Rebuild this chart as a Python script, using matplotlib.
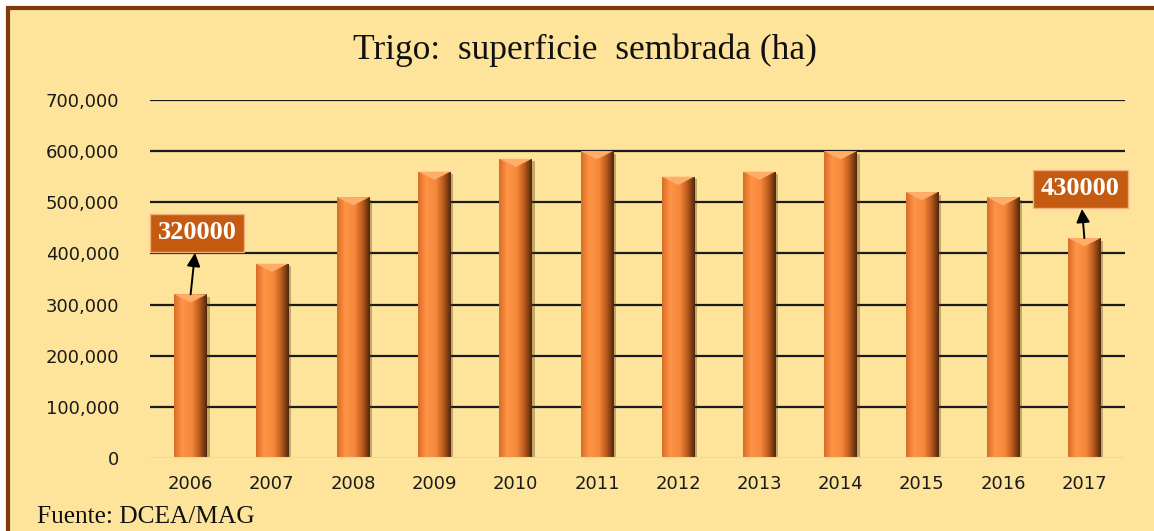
import matplotlib
matplotlib.use("Agg")
import matplotlib.pyplot as plt
import numpy as np
from matplotlib.colors import LinearSegmentedColormap
from matplotlib.patches import Rectangle
from matplotlib.ticker import FuncFormatter

years = ["2006", "2007", "2008", "2009", "2010", "2011",
         "2012", "2013", "2014", "2015", "2016", "2017"]
area_ha = [320000, 380000, 510000, 560000, 585000, 600000,
           550000, 560000, 600000, 520000, 510000, 430000]
yticks = [0, 100000, 200000, 300000, 400000, 500000, 600000, 700000]
title = "Trigo:  superficie  sembrada (ha)"
source = "Fuente: DCEA/MAG"
callouts = {"2006": "320000", "2017": "430000"}

BG = "#FDE49A"
fig = plt.figure(figsize=(11.54, 5.31), dpi=100)
fig.patch.set_facecolor("white")
# chart frame
fig.add_artist(Rectangle((8 / 1154, -0.05), 1.2, 1 - 8 / 531 + 0.05,
                         transform=fig.transFigure, facecolor=BG,
                         edgecolor="#7F3A0C", linewidth=3, zorder=0))

ax = fig.add_axes([150 / 1154, 1 - 458 / 531, 975 / 1154, (458 - 100) / 531])
ax.set_facecolor("none")
x = np.arange(len(years))
ax.set_xlim(-0.5, len(years) - 0.5)
ax.set_ylim(0, 700000)

cmap = LinearSegmentedColormap.from_list(
    "cyl", [(0, "#D66C26"), (0.25, "#FF9446"), (0.55, "#F5873A"),
            (0.78, "#B8591C"), (1.0, "#4E260A")])
grad = np.linspace(0, 1, 256).reshape(1, -1)
width = 0.40
bars = ax.bar(x, area_ha, width=width, color="#F08838", zorder=3)
for b, v in zip(bars, area_ha):
    # shadow
    ax.add_patch(Rectangle((b.get_x() + 0.035, 0), b.get_width(), v - 5000,
                           facecolor="#5A3A14", alpha=0.35, zorder=2, linewidth=0))
    im = ax.imshow(grad, cmap=cmap, aspect="auto",
                   extent=[b.get_x(), b.get_x() + b.get_width(), 0, v], zorder=3.5)
    im.set_clip_path(b)
    # top cap highlight
    cx = b.get_x() + b.get_width() / 2
    w = b.get_width()
    ax.fill([b.get_x(), cx, b.get_x() + w], [v, v - 16000, v],
            color="#FFAE6A", zorder=4, linewidth=0)

ax.set_yticks(yticks)
ax.yaxis.set_major_formatter(FuncFormatter(lambda v, p: f"{int(v):,}"))
ax.set_xticks(x)
ax.set_xticklabels(years)
for yv in yticks[1:]:
    ax.axhline(yv, color="#1A1A1A", linewidth=1.6, zorder=1)
ax.axhline(0, color="#D8D8D8", linewidth=1.5, zorder=5)
for s in ax.spines.values():
    s.set_visible(False)
ax.tick_params(axis="both", length=0, labelsize=13, colors="#1A1A1A")
ax.tick_params(axis="y", pad=22)
ax.tick_params(axis="x", pad=12)

fig.text(585 / 1154, 1 - 50 / 531, title, ha="center", va="center",
         fontsize=25.5, family="Liberation Serif", color="#111111")
fig.text(37 / 1154, 1 - 517 / 531, source, ha="left", va="center",
         fontsize=18.3, family="Liberation Serif", color="#111111")

box = dict(boxstyle="square,pad=0.3", facecolor="#C55A11",
           edgecolor="#F0B080", linewidth=1)
arrow = dict(arrowstyle="<|-", color="black", lw=1.4,
             mutation_scale=20, shrinkA=0, shrinkB=0)
i0 = years.index("2006")
ax.annotate(callouts["2006"], xy=(x[i0], area_ha[i0]),
            xytext=(x[i0] + 0.08, 440000), ha="center", va="center",
            fontsize=19, fontweight="bold", family="Liberation Serif",
            color="white", bbox=box, zorder=6, arrowprops=arrow)
i1 = years.index("2017")
ax.annotate(callouts["2017"], xy=(x[i1], area_ha[i1]),
            xytext=(x[i1] - 0.05, 526000), ha="center", va="center",
            fontsize=19, fontweight="bold", family="Liberation Serif",
            color="white", bbox=box, zorder=6, arrowprops=arrow)

fig.savefig("out.png", dpi=100, facecolor=fig.get_facecolor())
